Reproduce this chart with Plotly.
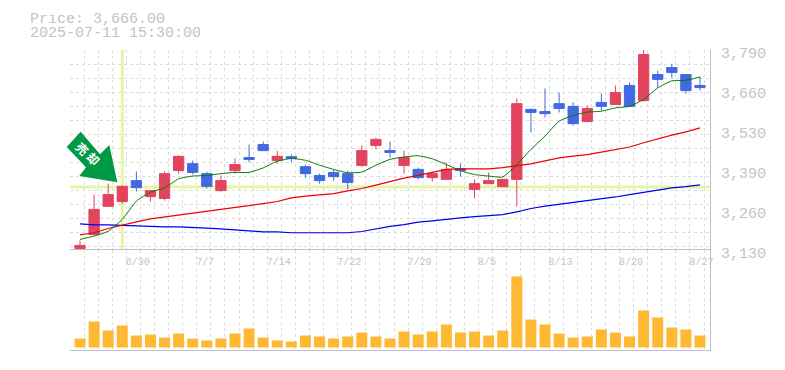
import plotly.graph_objects as go

# --- data ---
opens  = [3135,3181,3274,3290,3359,3306,3300,3392,3415,3382,3326,3392,3435,3478,3425,3438,3405,3376,3386,3382,3409,3475,3458,3409,3396,3369,3363,3399,3330,3349,3339,3363,3594,3587,3613,3604,3554,3617,3610,3673,3623,3709,3732,3709,3673]
closes = [3145,3264,3313,3340,3336,3326,3382,3439,3386,3340,3359,3412,3429,3458,3439,3432,3382,3359,3372,3353,3458,3495,3452,3435,3369,3382,3396,3392,3349,3359,3363,3613,3584,3580,3597,3547,3597,3604,3650,3604,3775,3693,3716,3656,3666]
highs  = [3161,3313,3349,3343,3389,3327,3389,3442,3425,3389,3376,3432,3478,3488,3458,3445,3412,3382,3396,3392,3475,3501,3488,3458,3402,3389,3419,3415,3363,3386,3363,3630,3597,3663,3650,3617,3607,3646,3673,3683,3792,3722,3745,3709,3702]
lows   = [3128,3178,3273,3283,3323,3290,3293,3382,3379,3333,3323,3382,3419,3457,3415,3419,3369,3349,3359,3330,3405,3462,3435,3382,3363,3356,3363,3372,3300,3349,3339,3274,3518,3567,3584,3541,3551,3590,3610,3604,3620,3666,3699,3646,3656]
ma_short = [3165,3176,3192,3231,3291,3321,3335,3365,3374,3376,3382,3386,3386,3401,3423,3432,3426,3410,3396,3385,3387,3410,3429,3437,3441,3431,3412,3392,3379,3374,3371,3412,3462,3506,3555,3574,3585,3588,3599,3604,3627,3665,3688,3690,3701]
ma_mid   = [3180,3187,3201,3213,3223,3233,3239,3247,3253,3258,3264,3270,3277,3283,3290,3302,3308,3312,3316,3325,3333,3344,3356,3367,3376,3385,3396,3398,3398,3398,3402,3409,3414,3424,3434,3440,3445,3453,3462,3470,3484,3497,3509,3520,3533]
ma_long  = [3216,3213,3213,3211,3210,3206,3206,3206,3203,3202,3200,3197,3194,3190,3190,3187,3187,3187,3187,3187,3191,3200,3208,3214,3222,3226,3232,3236,3240,3243,3247,3256,3267,3275,3281,3287,3292,3299,3305,3313,3321,3329,3335,3339,3345]
volume = [27,78,51,66,36,39,30,42,27,21,27,42,57,30,21,18,36,33,27,33,45,33,27,48,39,48,69,45,48,36,51,213,84,69,42,30,33,54,45,33,111,90,60,54,36]
date_idx = [3,8,13,18,23,28,33,38,43]
date_labels = ["6/30","7/7","7/14","7/22","7/29","8/5","8/13","8/20","8/27"]
price_labels = [3790,3660,3530,3390,3260,3130]
price_label_pos = [3790,3658,3526,3394,3262,3130]
entry_idx = 3
entry_price = 3338
title_lines = ["Price: 3,666.00", "2025-07-11 15:30:00"]
arrow_text = "売却"

GREY = "#c4c4c4"
FONT = "Liberation Mono"
GRID = "#dcdcdc"
AXIS = "#c0c0c0"
x = list(range(len(closes)))
xmin, xmax = -0.71, 44.71
ymin, ymax = 3130, 3790
yaxis_floor = 3120

fig = go.Figure()
fig.add_trace(go.Candlestick(
    x=x, open=opens, high=highs, low=lows, close=closes, xaxis="x", yaxis="y",
    increasing=dict(line=dict(color="#e2445f", width=1), fillcolor="#e2445f"),
    decreasing=dict(line=dict(color="#4169e1", width=1), fillcolor="#4169e1"),
    whiskerwidth=0, showlegend=False, hoverinfo="skip"))
fig.add_trace(go.Scatter(x=x, y=ma_long, mode="lines", line=dict(color="#0000ee", width=1.2), showlegend=False))
fig.add_trace(go.Scatter(x=x, y=ma_mid, mode="lines", line=dict(color="#ee0000", width=1.2), showlegend=False))
fig.add_trace(go.Scatter(x=x, y=ma_short, mode="lines", line=dict(color="#007a00", width=1, shape="spline", smoothing=0.5), showlegend=False))
fig.add_trace(go.Bar(x=x, y=volume, xaxis="x2", yaxis="y2", marker=dict(color="#ffb833", line=dict(width=0)), width=0.78, showlegend=False))

grid_x = [i + 0.285 for i in range(-1, 45)]
grid_y = [ymax - k * 46.2 for k in range(0, 15)]
minor_x = dict(tickmode="array", tickvals=grid_x, showgrid=True, gridcolor=GRID, griddash="3px,3px", gridwidth=1, ticks="")


def px(X):
    return (X - 70) / 640


def py(Y):
    return (350 - Y) / 300


arrow_pts = [(80.7, 131.7), (66.7, 147), (86, 167.3), (79.3, 176), (117.3, 182.3), (109.3, 145), (100, 154.3)]
arrow_path = "M " + " L ".join(f"{px(a):.5f} {py(b):.5f}" for a, b in arrow_pts) + " Z"
price_bottom = 1 - (ymax - yaxis_floor) / 3.3 / 300

fig.update_layout(
    width=785, height=370, autosize=False,
    margin=dict(l=62, r=83, t=42, b=28),
    paper_bgcolor="white", plot_bgcolor="white",
    boxgap=0.27, boxgroupgap=0, showlegend=False,
    font=dict(family=FONT, color=GREY, size=15),
    xaxis=dict(
        range=[xmin, xmax], anchor="y", domain=[0, 1], rangeslider=dict(visible=False),
        showgrid=False, zeroline=False, showline=False, showticklabels=False, ticks="",
        minor=minor_x,
    ),
    xaxis2=dict(
        range=[xmin, xmax], anchor="y2", domain=[0, 1], matches="x",
        showgrid=False, zeroline=False, showline=True, mirror=True, linecolor=AXIS, linewidth=1,
        tickmode="array", tickvals=date_idx, ticktext=date_labels, ticks="",
        side="top", ticklabelposition="inside right", ticklabeloverflow="allow",
        ticklabelshift=3, ticklabelstandoff=4,
        tickfont=dict(family=FONT, size=10, color=GREY),
        minor=minor_x,
    ),
    yaxis=dict(
        domain=[price_bottom, 1], range=[yaxis_floor, ymax], side="right", anchor="x",
        showgrid=False, zeroline=False, showline=True, linecolor=AXIS, linewidth=1,
        tickmode="array", tickvals=[v - 8 for v in price_label_pos],
        ticktext=[f"{v:,}" for v in price_labels], ticks="outside", ticklen=7, tickcolor="rgba(0,0,0,0)",
        tickfont=dict(family=FONT, size=15, color=GREY),
        minor=dict(tickmode="array", tickvals=grid_y, showgrid=True, gridcolor=GRID, griddash="3px,3px", gridwidth=1, ticks=""),
    ),
    yaxis2=dict(
        domain=[0, 1/3], range=[-7.5, 292.5], side="right", anchor="x2",
        showgrid=False, zeroline=False, showline=True, linecolor=AXIS, linewidth=1,
        showticklabels=False, ticks="",
    ),
    shapes=[
        dict(type="line", xref="x", yref="y", x0=entry_idx, x1=entry_idx, y0=ymin, y1=ymax, layer="below",
             line=dict(color="#e5f5a6", width=3)),
        dict(type="line", xref="x", yref="y", x0=xmin, x1=xmax, y0=entry_price, y1=entry_price, layer="below",
             line=dict(color="#e5f5a6", width=3)),
        dict(type="path", xref="paper", yref="paper", layer="above", line=dict(width=0), fillcolor="#009944",
             path=arrow_path),
    ],
    annotations=[
        dict(text=title_lines[0], xref="paper", yref="paper", x=px(28), y=py(19.5), xanchor="left", yanchor="middle",
             height=13, showarrow=False, font=dict(family=FONT, size=15, color=GREY)),
        dict(text=title_lines[1], xref="paper", yref="paper", x=px(28), y=py(33.5), xanchor="left", yanchor="middle",
             height=13, showarrow=False, font=dict(family=FONT, size=15, color=GREY)),
        dict(text=f"<b>{arrow_text[0]}</b>", xref="paper", yref="paper", x=px(83), y=py(148), xanchor="center", yanchor="middle", textangle=45,
             showarrow=False, font=dict(family="Noto Sans CJK JP", size=12, color="white")),
        dict(text=f"<b>{arrow_text[1]}</b>", xref="paper", yref="paper", x=px(94), y=py(158), xanchor="center", yanchor="middle", textangle=45,
             showarrow=False, font=dict(family="Noto Sans CJK JP", size=12, color="white")),
    ],
)
fig.write_html("out.html")
